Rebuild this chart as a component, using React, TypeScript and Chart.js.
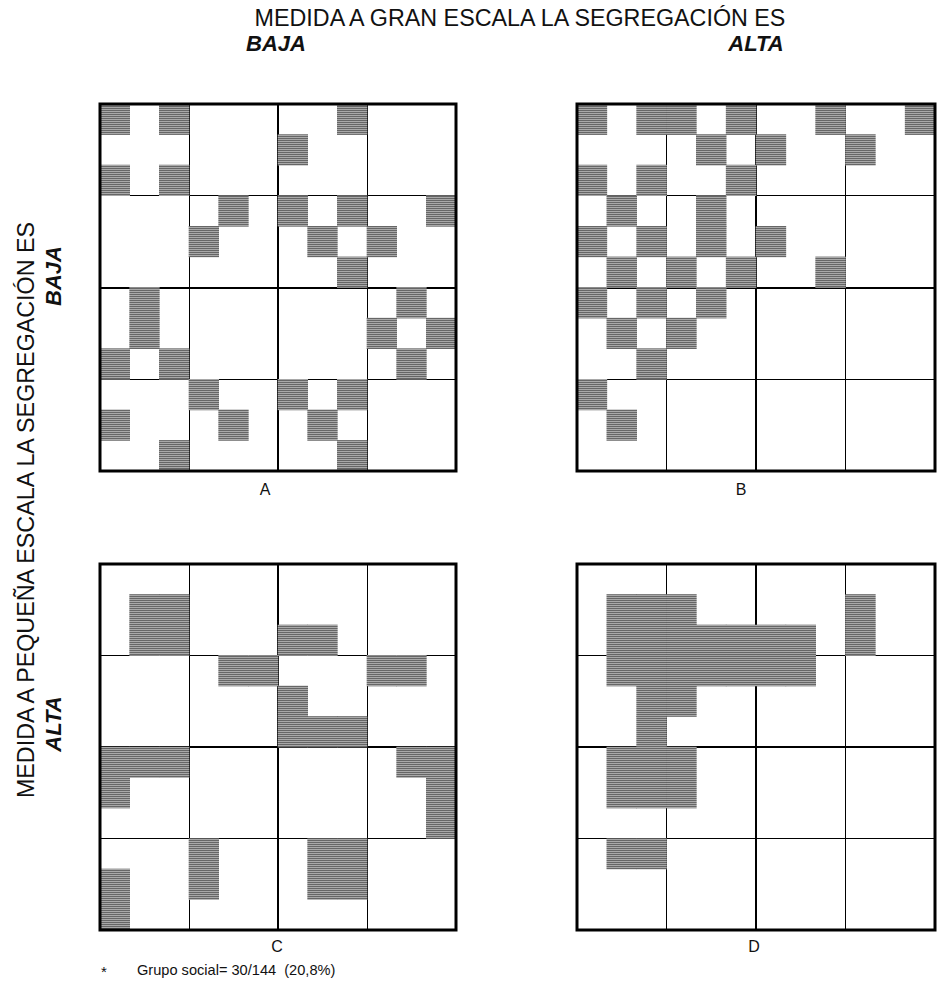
import React, { useEffect, useRef } from 'react';
import { Chart, registerables } from 'chart.js';

Chart.register(...registerables);

// 12 x 12 grid: columns (x categories) and rows (y values, 0 = top)
const columns: string[] = ['1', '2', '3', '4', '5', '6', '7', '8', '9', '10', '11', '12'];
const rowCount = 12;
const blockSize = 3;

// Shaded cells of the social group as [row, column], row 0 = top, column 0 = left
const cellsA: [number, number][] = [
  [0, 0], [0, 2], [0, 8],
  [1, 6],
  [2, 0], [2, 2],
  [3, 4], [3, 6], [3, 8], [3, 11],
  [4, 3], [4, 7], [4, 9],
  [5, 8],
  [6, 1], [6, 10],
  [7, 1], [7, 9], [7, 11],
  [8, 0], [8, 2], [8, 10],
  [9, 3], [9, 6], [9, 8],
  [10, 0], [10, 4], [10, 7],
  [11, 2], [11, 8],
];

const cellsB: [number, number][] = [
  [0, 0], [0, 2], [0, 3], [0, 5], [0, 8], [0, 11],
  [1, 4], [1, 6], [1, 9],
  [2, 0], [2, 2], [2, 5],
  [3, 1], [3, 4],
  [4, 0], [4, 2], [4, 4], [4, 6],
  [5, 1], [5, 3], [5, 5], [5, 8],
  [6, 0], [6, 2], [6, 4],
  [7, 1], [7, 3],
  [8, 2],
  [9, 0],
  [10, 1],
];

const cellsC: [number, number][] = [
  [1, 1], [1, 2],
  [2, 1], [2, 2], [2, 6], [2, 7],
  [3, 4], [3, 5], [3, 9], [3, 10],
  [4, 6],
  [5, 6], [5, 7], [5, 8],
  [6, 0], [6, 1], [6, 2], [6, 10], [6, 11],
  [7, 0], [7, 11],
  [8, 11],
  [9, 3], [9, 7], [9, 8],
  [10, 0], [10, 3], [10, 7], [10, 8],
  [11, 0],
];

const cellsD: [number, number][] = [
  [1, 1], [1, 2], [1, 3], [1, 9],
  [2, 1], [2, 2], [2, 3], [2, 4], [2, 5], [2, 6], [2, 7], [2, 9],
  [3, 1], [3, 2], [3, 3], [3, 4], [3, 5], [3, 6], [3, 7],
  [4, 2], [4, 3],
  [5, 2],
  [6, 1], [6, 2], [6, 3],
  [7, 1], [7, 2], [7, 3],
  [9, 1], [9, 2],
];

const panelLabels: string[] = ['A', 'B', 'C', 'D'];
const topTitle = 'MEDIDA A GRAN ESCALA LA SEGREGACIÓN ES';
const leftTitle = 'MEDIDA A PEQUEÑA ESCALA LA SEGREGACIÓN ES';
const levelLabels: string[] = ['BAJA', 'ALTA'];
const footStar = '*';
const footText = 'Grupo social= 30/144  (20,8%)';

const FONT = '"Liberation Sans", Arial, Helvetica, sans-serif';

function makePattern(): CanvasPattern | string {
  const c = document.createElement('canvas');
  c.width = 4;
  c.height = 4;
  const g = c.getContext('2d');
  if (!g) return '#888888';
  for (let y = 0; y < 4; y++) {
    g.fillStyle = y % 2 === 0 ? '#666666' : '#a8a8a8';
    g.fillRect(0, y, 4, 1);
  }
  const p = g.createPattern(c, 'repeat');
  return p || '#888888';
}

// inner block lines only; the outer frame is drawn by the frame plugin
function lineWidthFor(i: number | undefined): number {
  if (i === undefined || i === 0 || i === rowCount) return 0;
  if (i === rowCount / 2) return 2;
  if (i % blockSize === 0) return 1;
  return 0;
}

const framePlugin = {
  id: 'frame',
  afterDraw(chart: any) {
    const { ctx, chartArea: a } = chart;
    ctx.save();
    ctx.strokeStyle = '#000';
    ctx.lineWidth = 3;
    ctx.strokeRect(a.left, a.top, a.right - a.left, a.bottom - a.top);
    ctx.restore();
  },
};

type PanelProps = { cells: [number, number][]; left: number; top: number; width: number; height: number };

const PAD = 6;

function Panel({ cells, left, top, width, height }: PanelProps) {
  const ref = useRef<HTMLCanvasElement>(null);
  useEffect(() => {
    if (!ref.current) return;
    const pattern = makePattern();
    const datasets = Array.from({ length: rowCount }, (_, r) => ({
      data: columns.map((_, c) => (cells.some(([rr, cc]) => rr === r && cc === c) ? [r, r + 1] : null)),
      backgroundColor: pattern as any,
      borderWidth: 0,
      grouped: false,
      categoryPercentage: 1,
      barPercentage: 1,
    }));
    const chart = new Chart(ref.current, {
      type: 'bar',
      data: { labels: columns, datasets: datasets as any },
      plugins: [framePlugin],
      options: {
        animation: false,
        responsive: false,
        events: [],
        layout: { padding: PAD },
        plugins: { legend: { display: false }, tooltip: { enabled: false }, title: { display: false } },
        scales: {
          x: {
            type: 'category',
            offset: true,
            z: 1,
            ticks: { display: false },
            border: { display: false },
            grid: {
              offset: true,
              drawTicks: false,
              color: (ctx: any) => (lineWidthFor(ctx.index) > 0 ? '#000' : 'rgba(0,0,0,0)'),
              lineWidth: (ctx: any) => lineWidthFor(ctx.index),
            },
          },
          y: {
            type: 'linear',
            min: 0,
            max: rowCount,
            reverse: true,
            z: 1,
            ticks: { display: false, stepSize: 1 },
            border: { display: false },
            grid: {
              drawTicks: false,
              color: (ctx: any) => (lineWidthFor(ctx.tick ? ctx.tick.value : undefined) > 0 ? '#000' : 'rgba(0,0,0,0)'),
              lineWidth: (ctx: any) => lineWidthFor(ctx.tick ? ctx.tick.value : undefined),
            },
          },
        },
      } as any,
    });
    return () => chart.destroy();
  }, [cells]);
  const w = width + 2 * PAD;
  const h = height + 2 * PAD;
  return (
    <canvas
      ref={ref}
      width={w}
      height={h}
      style={{ position: 'absolute', left: left - PAD, top: top - PAD, width: w, height: h }}
    />
  );
}

const textBase: React.CSSProperties = {
  position: 'absolute',
  whiteSpace: 'pre',
  lineHeight: 1,
  fontFamily: FONT,
  color: '#111',
};

function Centered({ text, x, y, size, bold, rotate }: { text: string; x: number; y: number; size: number; bold?: boolean; rotate?: boolean }) {
  return (
    <div
      style={{
        ...textBase,
        left: x,
        top: y,
        fontSize: size,
        fontWeight: bold ? 'bold' : 'normal',
        fontStyle: bold ? 'italic' : 'normal',
        transform: `translate(-50%, -50%)${rotate ? ' rotate(-90deg)' : ''}`,
      }}
    >
      {text}
    </div>
  );
}

export default function App() {
  const panels = [
    { cells: cellsA, left: 100, top: 104, width: 356, height: 367 },
    { cells: cellsB, left: 577, top: 104, width: 358, height: 367 },
    { cells: cellsC, left: 100, top: 564, width: 356, height: 366 },
    { cells: cellsD, left: 577, top: 564, width: 358, height: 366 },
  ];
  const labelPos = [
    [265, 490],
    [741, 490],
    [277, 947],
    [754, 947],
  ];
  return (
    <div style={{ position: 'absolute', left: 0, top: 0, width: 939, height: 989, background: '#fff', overflow: 'hidden' }}>
      <Centered text={topTitle} x={520} y={19} size={23.3} />
      <Centered text={levelLabels[0]} x={276} y={44} size={22} bold />
      <Centered text={levelLabels[1]} x={756} y={44} size={22} bold />
      <Centered text={leftTitle} x={27} y={510} size={23.3} rotate />
      <Centered text={levelLabels[0]} x={54} y={276} size={22} bold rotate />
      <Centered text={levelLabels[1]} x={54} y={724} size={22} bold rotate />
      {panels.map((p, i) => (
        <Panel key={i} {...p} />
      ))}
      {panelLabels.map((l, i) => (
        <Centered key={l} text={l} x={labelPos[i][0]} y={labelPos[i][1]} size={16} />
      ))}
      <div style={{ ...textBase, left: 101, top: 964, fontSize: 15 }}>{footStar}</div>
      <div style={{ ...textBase, left: 137, top: 963, fontSize: 14.6 }}>{footText}</div>
    </div>
  );
}
